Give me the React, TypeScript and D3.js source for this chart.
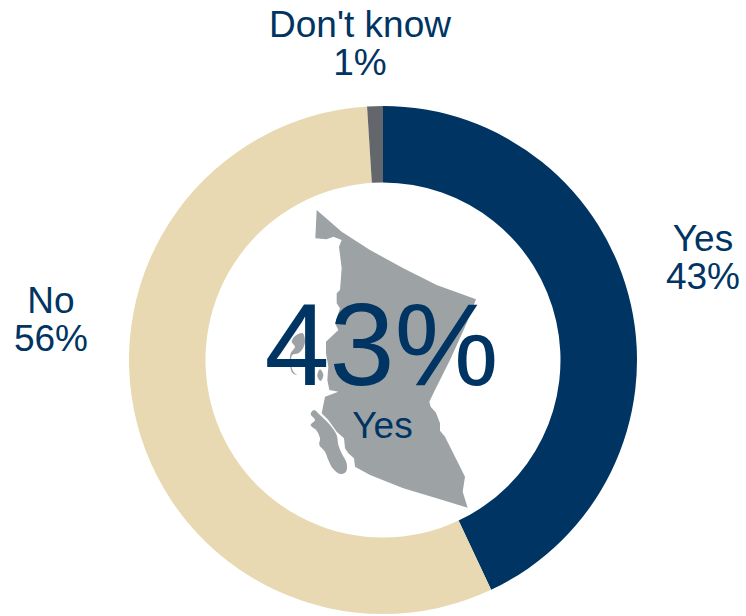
import React from "react";
import * as d3 from "d3";

const categories = ["Yes", "No", "Don't know"];
const values = [43, 56, 1];
const sliceColors = ["#003462", "#E8D9B2", "#63676B"];
const labelLines = [
  ["Yes", "43%"],
  ["No", "56%"],
  ["Don't know", "1%"],
];
const labelAnchors = [
  { x: 703, y: 251 },
  { x: 51, y: 313 },
  { x: 360, y: 37 },
];
const centerValue = "43%";
const centerLabel = "Yes";

// Decorative map silhouette of British Columbia, traced in page pixels
const mainland: [number, number][] = [
  [140,60],[215,125],[300,180],[400,235],[500,285],[618,328],[590,400],[540,510],[495,600],[478,635],[482,650],[498,668],[510,700],[510,722],[525,740],[585,860],[578,905],[593,953],[500,925],[400,895],[300,855],[255,830],[252,805],[235,790],[225,775],[222,745],[200,725],[175,690],[155,670],[165,620],[205,605],[178,600],[172,570],[175,530],[168,490],[168,455],[205,420],[195,400],[210,355],[200,340],[200,310],[210,300],[215,235],[207,170],[215,150],[190,140],[170,148],[136,145],
];
const vancouverIsland: [number, number][] = [
  [122,672],[132,660],[150,675],[180,705],[200,735],[205,765],[215,790],[230,820],[228,845],[210,852],[188,835],[175,810],[165,785],[148,765],[150,745],[140,722],[122,705],[135,690],
];
const haidaGwaii: [number, number][] = [
  [75,438],[98,430],[105,455],[97,478],[85,490],[67,495],[63,520],[70,545],[82,555],[68,550],[60,525],[62,490],[75,470],[65,455],
];
const smallIsland: [number, number][] = [
  [150,538],[160,555],[152,573],[142,558],
];
const mapShapes = [mainland, vancouverIsland, haidaGwaii, smallIsland];

const WIDTH = 746;
const HEIGHT = 616;
const CX = 383;
const CY = 360;
const OUTER = 254;
const INNER = 177.5;
const FONT = "'Liberation Sans', Arial, sans-serif";
const NAVY = "#003462";

export default function App() {
  const pie = d3.pie<number>().sort(null)(values);
  const arc = d3.arc<d3.PieArcDatum<number>>().innerRadius(INNER).outerRadius(OUTER);
  const px = (d: [number, number]) => 270 + d[0] / 3;
  const py = (d: [number, number]) => 190 + d[1] / 3;
  const linear = d3.line<[number, number]>().x(px).y(py).curve(d3.curveLinearClosed);
  const smooth = d3.line<[number, number]>().x(px).y(py).curve(d3.curveCatmullRomClosed);

  return (
    <svg
      width={WIDTH}
      height={HEIGHT}
      viewBox={`0 0 ${WIDTH} ${HEIGHT}`}
      style={{ position: "absolute", left: 0, top: 0, display: "block" }}
      fontFamily={FONT}
    >
      <g transform={`translate(${CX},${CY})`}>
        {pie.map((d, i) => (
          <path key={categories[i]} d={arc(d) ?? ""} fill={sliceColors[i]} />
        ))}
      </g>
      {mapShapes.map((s, i) => (
        <path key={i} d={(i === 0 ? linear(s) : smooth(s)) ?? ""} fill="#9DA3A5" />
      ))}
      {labelLines.map((lines, i) =>
        lines.map((t, j) => (
          <text
            key={t}
            x={labelAnchors[i].x}
            y={labelAnchors[i].y + j * 37.5}
            textAnchor="middle"
            fontSize={37}
            fill={NAVY}
          >
            {t}
          </text>
        ))
      )}
      <text x={381.5} y={385} textAnchor="middle" fontSize={117} fill={NAVY}>
        {centerValue}
      </text>
      <text x={382.5} y={438} textAnchor="middle" fontSize={37} fill={NAVY}>
        {centerLabel}
      </text>
    </svg>
  );
}
